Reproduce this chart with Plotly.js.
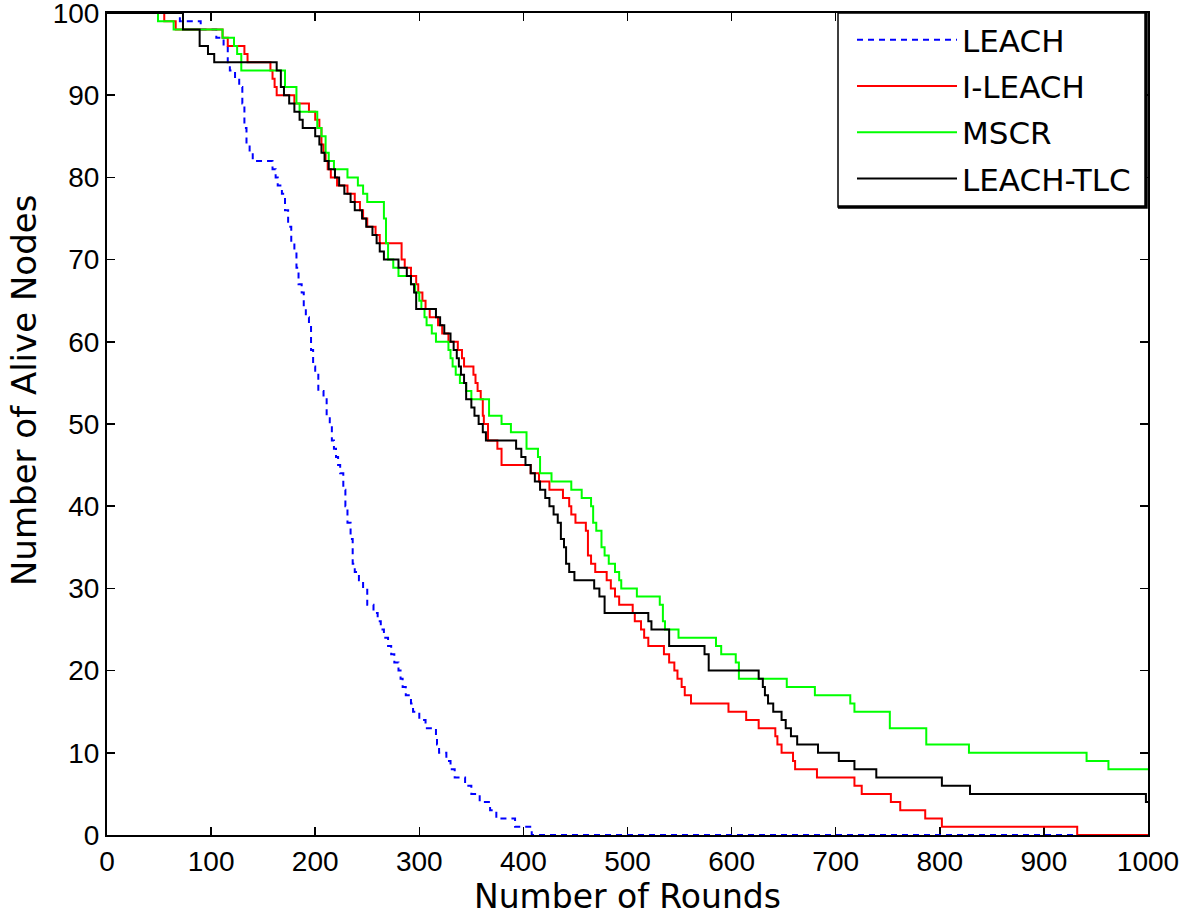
<!DOCTYPE html>
<html>
<head>
<meta charset="utf-8">
<script src="https://cdn.plot.ly/plotly-3.0.1.min.js"></script>
<style>
  html, body { margin: 0; padding: 0; background: #fff; }
  #graph { width: 1179px; height: 922px; }
</style>
</head>
<body>
<div id="graph"></div>
<script>
// Datos (rondas donde cambia el numero de nodos vivos)
var leachX = [0, 70, 90, 105, 112, 116, 118, 123, 127, 130, 132, 134, 137, 140, 159, 162, 164, 168, 171, 174,
    177, 180, 182, 184, 187, 189, 191, 194, 196, 198, 200, 203, 208, 211, 214, 216, 218, 220, 222, 224,
    227, 229, 231, 234, 236, 238, 242, 246, 250, 256, 260, 263, 266, 270, 273, 276, 280, 282, 284, 287,
    292, 294, 300, 306, 316, 317, 319, 326, 330, 334, 344, 350, 358, 368, 374, 392, 408, 1000];
var leachY = [100, 99, 98, 97, 96, 94, 93, 92, 91, 89, 86, 84, 83, 82, 81, 80, 79, 78, 76, 74,
    72, 71, 69, 67, 66, 64, 63, 62, 59, 57, 56, 54, 53, 51, 50, 48, 47, 46, 45, 44,
    42, 40, 38, 36, 33, 32, 31, 30, 28, 27, 26, 25, 24, 23, 22, 21, 20, 19, 18, 17,
    16, 15, 14, 13, 12, 11, 10, 9, 8, 7, 6, 5, 4, 3, 2, 1, 0, 0];

var ileachX = [0, 55, 66, 111, 116, 132, 135, 157, 159, 161, 163, 180, 194, 200, 204, 206, 208, 210, 212, 215,
    221, 231, 238, 243, 246, 250, 258, 262, 283, 286, 292, 297, 299, 303, 306, 310, 318, 322, 328, 337,
    341, 343, 352, 354, 356, 359, 361, 362, 366, 375, 379, 407, 415, 425, 438, 444, 446, 450, 460, 462,
    465, 469, 480, 484, 488, 492, 505, 507, 513, 516, 520, 535, 540, 545, 548, 552, 555, 561, 597, 614,
    626, 642, 644, 648, 659, 661, 682, 718, 725, 753, 762, 786, 802, 932, 1000];
var ileachY = [100, 99, 98, 97, 96, 95, 94, 93, 92, 91, 90, 89, 88, 87, 86, 84, 83, 82, 81, 80,
    79, 78, 77, 76, 75, 74, 73, 72, 70, 69, 68, 67, 66, 65, 64, 63, 62, 61, 60, 59,
    58, 57, 56, 55, 54, 53, 51, 50, 48, 47, 45, 44, 43, 42, 41, 40, 39, 38, 37, 34,
    33, 32, 31, 30, 29, 28, 27, 26, 25, 24, 23, 22, 21, 20, 19, 18, 17, 16, 15, 14,
    13, 12, 11, 10, 9, 8, 7, 6, 5, 4, 3, 2, 1, 0, 0];

var mscrX = [0, 49, 64, 111, 122, 125, 129, 171, 182, 185, 202, 206, 210, 213, 218, 231, 241, 246, 250, 266,
    268, 270, 275, 280, 292, 296, 300, 302, 305, 307, 312, 316, 328, 330, 332, 335, 339, 345, 350, 367,
    379, 388, 403, 414, 416, 427, 446, 456, 465, 467, 470, 475, 478, 482, 488, 492, 494, 509, 531, 534,
    536, 549, 585, 590, 604, 607, 653, 680, 714, 718, 752, 787, 828, 941, 962, 1000];
var mscrY = [100, 99, 98, 97, 96, 95, 93, 91, 89, 88, 86, 85, 83, 82, 81, 80, 79, 78, 77, 75,
    72, 70, 69, 68, 67, 66, 65, 64, 63, 62, 61, 60, 59, 58, 57, 56, 55, 54, 53, 51,
    50, 49, 47, 46, 44, 43, 42, 41, 40, 38, 37, 35, 34, 33, 32, 31, 30, 29, 28, 26,
    25, 24, 23, 22, 21, 19, 18, 17, 16, 15, 13, 11, 10, 9, 8, 8];

var tlcX = [0, 73, 89, 97, 103, 163, 167, 170, 175, 180, 185, 188, 200, 204, 206, 209, 213, 219, 223, 228,
    234, 238, 245, 249, 255, 259, 262, 266, 280, 288, 292, 295, 297, 316, 320, 324, 330, 333, 336, 338,
    340, 343, 345, 350, 353, 357, 361, 364, 393, 398, 402, 407, 411, 416, 421, 425, 429, 433, 436, 439,
    441, 444, 449, 468, 473, 478, 520, 523, 540, 574, 578, 626, 630, 632, 635, 640, 648, 652, 657, 663,
    683, 703, 718, 739, 802, 829, 998, 1000];
var tlcY = [100, 98, 96, 95, 94, 93, 91, 90, 89, 88, 87, 86, 85, 84, 83, 82, 81, 80, 79, 78,
    77, 76, 75, 74, 73, 72, 71, 70, 69, 68, 67, 66, 64, 63, 62, 61, 60, 59, 58, 57,
    56, 55, 53, 52, 51, 50, 49, 48, 47, 46, 45, 44, 43, 42, 41, 40, 39, 38, 36, 35,
    33, 32, 31, 30, 29, 27, 26, 25, 23, 22, 20, 19, 18, 17, 16, 15, 14, 13, 12, 11,
    10, 9, 8, 7, 6, 5, 4, 4];

var nombres = ['LEACH', 'I-LEACH', 'MSCR', 'LEACH-TLC'];
var colores = ['#0000ff', '#ff0000', '#00ff00', '#000000'];

// Funcion que arma una traza escalonada
function traza(x, y, i, dash) {
    return {
        x: x,
        y: y,
        name: nombres[i],
        legendgroup: 'g' + i,
        mode: 'lines',
        line: { color: colores[i], width: 2, shape: 'hv', dash: dash }
    };
}

var data = [
    traza(leachX, leachY, 0, '6px,5px'),
    traza(ileachX, ileachY, 1, 'solid'),
    traza(mscrX, mscrY, 2, 'solid'),
    traza(tlcX, tlcY, 3, 'solid')
];

var fuenteTicks = { family: 'Liberation Sans, Arial, sans-serif', size: 28, color: '#000' };
var fuenteTexto = { family: 'DejaVu Sans, sans-serif', size: 31, color: '#000' };

// Caja de la leyenda (estilo MATLAB, con sombra abajo y a la derecha)
var cajaX0 = (838 - 107) / 1041, cajaX1 = (1146 - 107) / 1041;
var cajaY0 = (835 - 207) / 822, cajaY1 = 1;

var layout = {
    width: 1179,
    height: 922,
    margin: { l: 107, r: 31, t: 13, b: 87 },
    paper_bgcolor: '#fff',
    plot_bgcolor: '#fff',
    showlegend: true,
    xaxis: {
        range: [0, 1000],
        tick0: 0,
        dtick: 100,
        ticks: 'inside',
        ticklen: 8,
        tickwidth: 1.5,
        tickcolor: '#000',
        showline: true,
        linecolor: '#000',
        linewidth: 2,
        mirror: 'ticks',
        showgrid: false,
        zeroline: false,
        layer: 'below traces',
        ticklabeloverflow: 'allow',
        tickfont: fuenteTicks,
        title: { text: 'Number of Rounds', font: { family: fuenteTexto.family, size: 33, color: '#000' }, standoff: 6 }
    },
    yaxis: {
        range: [0, 100],
        tick0: 0,
        dtick: 10,
        ticks: 'inside',
        ticklen: 8,
        tickwidth: 1.5,
        tickcolor: '#000',
        showline: true,
        linecolor: '#000',
        linewidth: 2,
        mirror: 'ticks',
        showgrid: false,
        zeroline: false,
        layer: 'below traces',
        ticklabeloverflow: 'allow',
        tickfont: fuenteTicks
    },
    annotations: [{
        text: 'Number of Alive Nodes',
        xref: 'paper', yref: 'paper',
        x: -0.079, y: 0.541,
        xanchor: 'center', yanchor: 'middle',
        textangle: -90,
        showarrow: false,
        font: { family: fuenteTexto.family, size: 34, color: '#000' }
    }],
    shapes: [
        {
            type: 'rect', xref: 'paper', yref: 'paper', layer: 'above',
            x0: cajaX0, x1: cajaX1, y0: cajaY0, y1: cajaY1,
            fillcolor: '#fff', line: { color: '#000', width: 1.5 }
        },
        {
            type: 'path', xref: 'paper', yref: 'paper', layer: 'above',
            path: 'M' + cajaX0 + ',' + cajaY0 + ' L' + cajaX1 + ',' + cajaY0 + ' L' + cajaX1 + ',' + cajaY1,
            line: { color: '#000', width: 3.5 }
        }
    ],
    legend: {
        x: (852 - 107) / 1041, xanchor: 'left',
        y: 1, yanchor: 'top',
        bgcolor: 'rgba(0,0,0,0)',
        borderwidth: 0,
        itemwidth: 100,
        tracegroupgap: 3,
        font: fuenteTexto,
        traceorder: 'grouped'
    }
};

Plotly.newPlot('graph', data, layout, { staticPlot: true });
</script>
</body>
</html>
